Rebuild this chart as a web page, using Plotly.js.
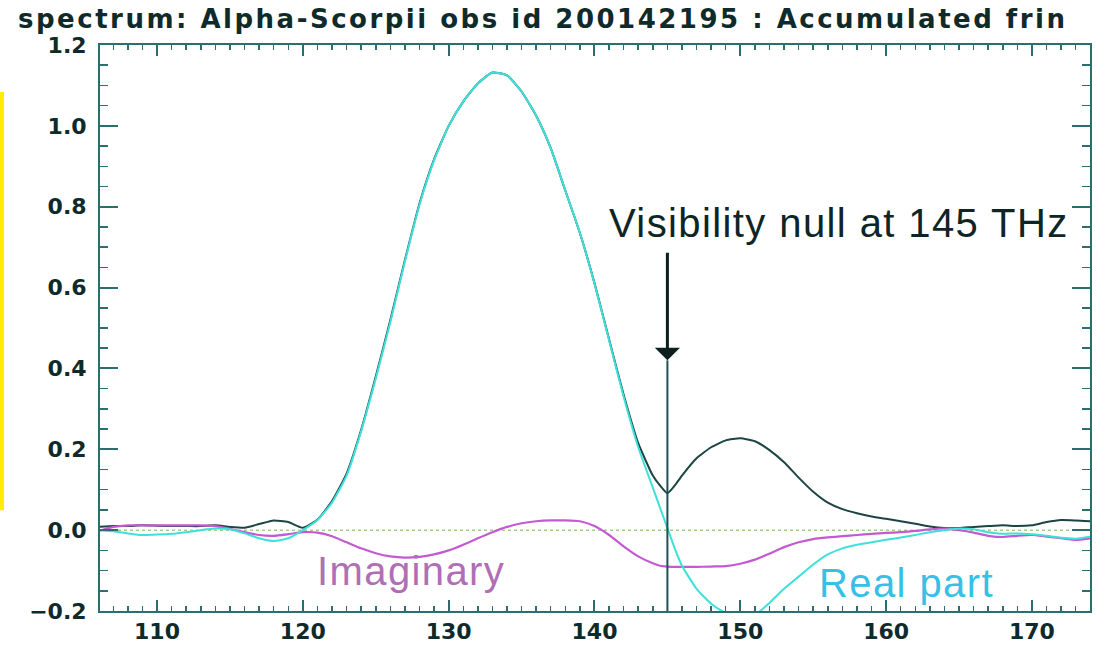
<!DOCTYPE html>
<html>
<head>
<meta charset="utf-8">
<script src="https://cdn.plot.ly/plotly-3.0.1.min.js"></script>
<style>
  html, body { margin: 0; padding: 0; background: #ffffff; }
  #chart { width: 1117px; height: 646px; }
  .gtitle { letter-spacing: 2.5px; }
  .annotation-text { letter-spacing: 1.4px; }
</style>
</head>
<body>
<div id="chart"></div>
<script>
// Frequency (THz)
const freq = [106,107,108,109,110,111,112,113,114,115,116,117,118,119,120,121,122,123,124,125,
  126,127,128,129,130,131,132,133,134,135,136,137,138,139,140,141,142,143,144,144.5,145,145.5,
  146,147,148,149,150,151,152,153,154,155,156,157,158,159,160,161,162,163,164,165,166,167,168,
  169,170,171,172,173,174];

// Real part (cyan)
const realPart = [0.000,-0.003,-0.008,-0.012,-0.011,-0.009,-0.005,0.000,0.004,0.002,-0.008,-0.020,
  -0.027,-0.020,0.000,0.025,0.068,0.135,0.245,0.375,0.515,0.665,0.805,0.915,1.000,1.060,1.105,
  1.132,1.125,1.085,1.025,0.945,0.840,0.735,0.610,0.470,0.330,0.205,0.105,0.055,0.005,-0.045,
  -0.088,-0.145,-0.182,-0.205,-0.218,-0.210,-0.180,-0.145,-0.115,-0.085,-0.060,-0.045,-0.036,
  -0.030,-0.024,-0.018,-0.012,-0.005,0.000,0.004,0.002,-0.005,-0.009,-0.008,-0.010,-0.014,
  -0.019,-0.021,-0.016];

// Imaginary part (purple)
const imagPart = [-0.002,0.008,0.012,0.012,0.012,0.012,0.012,0.012,0.010,0.003,-0.005,-0.012,
  -0.014,-0.010,-0.005,-0.006,-0.015,-0.030,-0.045,-0.057,-0.065,-0.068,-0.066,-0.060,-0.050,
  -0.036,-0.020,-0.005,0.008,0.017,0.022,0.024,0.024,0.022,0.010,-0.012,-0.040,-0.065,-0.082,
  -0.088,-0.090,-0.091,-0.091,-0.091,-0.090,-0.089,-0.083,-0.073,-0.058,-0.042,-0.030,-0.022,
  -0.018,-0.015,-0.012,-0.009,-0.007,-0.005,-0.002,0.002,0.004,0.000,-0.006,-0.014,-0.017,
  -0.014,-0.012,-0.016,-0.020,-0.024,-0.020];

// Amplitude (dark)
const amplitude = [0.008,0.010,0.010,0.012,0.011,0.010,0.010,0.010,0.012,0.008,0.006,0.015,
  0.024,0.020,0.006,0.026,0.072,0.140,0.248,0.380,0.520,0.668,0.808,0.917,1.000,1.060,1.105,
  1.132,1.125,1.085,1.025,0.945,0.840,0.735,0.611,0.472,0.335,0.215,0.135,0.110,0.091,0.110,
  0.135,0.178,0.205,0.222,0.227,0.220,0.198,0.168,0.130,0.095,0.068,0.052,0.042,0.034,0.028,
  0.022,0.016,0.009,0.005,0.005,0.008,0.010,0.012,0.010,0.012,0.020,0.025,0.024,0.022];

const titleText = 'spectrum: Alpha-Scorpii obs id 200142195 : Accumulated frin';
const nullFreq = 145;
const nullLabel = 'Visibility null at 145 THz';
const imagLabel = 'Imaginary';
const realLabel = 'Real part';

const axisColor = '#2a6e6e';
const tickFont = {family: 'DejaVu Sans', size: 22, color: '#0f2a2a', weight: 'bold'};

const traces = [
  {x: freq, y: amplitude, type: 'scatter', mode: 'lines',
   line: {color: '#1d4444', width: 2, shape: 'spline', smoothing: 0.5}, hoverinfo: 'skip'},
  {x: freq, y: imagPart, type: 'scatter', mode: 'lines',
   line: {color: '#c45ad2', width: 2.2, shape: 'spline', smoothing: 0.5}, hoverinfo: 'skip'},
  {x: freq, y: realPart, type: 'scatter', mode: 'lines',
   line: {color: '#3ee0da', width: 2, shape: 'spline', smoothing: 0.5}, hoverinfo: 'skip'}
];

const layout = {
  width: 1117, height: 646,
  margin: {l: 100, r: 27, t: 45, b: 35},
  paper_bgcolor: '#ffffff', plot_bgcolor: '#ffffff',
  showlegend: false,
  title: {
    text: titleText,
    font: {family: 'DejaVu Sans', size: 26, color: '#0f2a2a', weight: 'bold'},
    xref: 'container', yref: 'container',
    x: 18 / 1117, xanchor: 'left', y: 1 - 10 / 646, yanchor: 'top',
    pad: {t: 0, b: 0, l: 0, r: 0}
  },
  xaxis: {
    range: [106.09, 173.98], showgrid: false, zeroline: false,
    showline: true, linecolor: axisColor, linewidth: 2, mirror: 'ticks',
    ticks: 'inside', ticklen: 11, tickwidth: 2, tickcolor: axisColor,
    dtick: 10, tick0: 0, tickfont: tickFont, ticklabelstandoff: 0,
    minor: {dtick: 1, ticks: 'inside', ticklen: 5, tickwidth: 1.5, tickcolor: axisColor, showgrid: false}
  },
  yaxis: {
    range: [-0.2, 1.2], showgrid: false, zeroline: false,
    showline: true, linecolor: axisColor, linewidth: 2, mirror: 'ticks',
    ticks: 'inside', ticklen: 18, tickwidth: 2, tickcolor: axisColor,
    dtick: 0.2, tick0: 0, tickformat: '.1f', tickfont: tickFont, ticklabelstandoff: 7,
    minor: {dtick: 0.05, ticks: 'inside', ticklen: 8, tickwidth: 1.5, tickcolor: axisColor, showgrid: false}
  },
  shapes: [
    {type: 'line', xref: 'paper', yref: 'y', x0: 0, x1: 1, y0: 0, y1: 0,
     line: {color: '#9fd184', width: 1.5, dash: 'dot'}, layer: 'below'},
    {type: 'line', xref: 'x', yref: 'y', x0: nullFreq, x1: nullFreq, y0: -0.2, y1: 0.42,
     line: {color: '#1d5252', width: 2}, layer: 'above'},
    {type: 'rect', xref: 'paper', yref: 'paper', x0: -0.101, x1: -0.097, y0: 0.178, y1: 0.917,
     fillcolor: '#ffec00', line: {width: 0}, layer: 'above'}
  ],
  annotations: [
    {x: nullFreq, y: 0.42, xref: 'x', yref: 'y', ax: nullFreq, ay: 0.69, axref: 'x', ayref: 'y',
     text: '', showarrow: true, arrowhead: 1, arrowsize: 1.4, arrowwidth: 3, arrowcolor: '#0d1f1f'},
    {x: 156.74, y: 0.759, xref: 'x', yref: 'y', text: nullLabel, showarrow: false,
     font: {family: 'Liberation Sans, Arial, sans-serif', size: 40, color: '#0f2424'}},
    {x: 127.45, y: -0.101, xref: 'x', yref: 'y', text: imagLabel, showarrow: false,
     font: {family: 'Liberation Sans, Arial, sans-serif', size: 40, color: '#b06fb4'}},
    {x: 161.4, y: -0.131, xref: 'x', yref: 'y', text: realLabel, showarrow: false,
     font: {family: 'Liberation Sans, Arial, sans-serif', size: 40, color: '#38bfe6'}}
  ]
};

Plotly.newPlot('chart', traces, layout, {displayModeBar: false, staticPlot: true});
</script>
</body>
</html>
